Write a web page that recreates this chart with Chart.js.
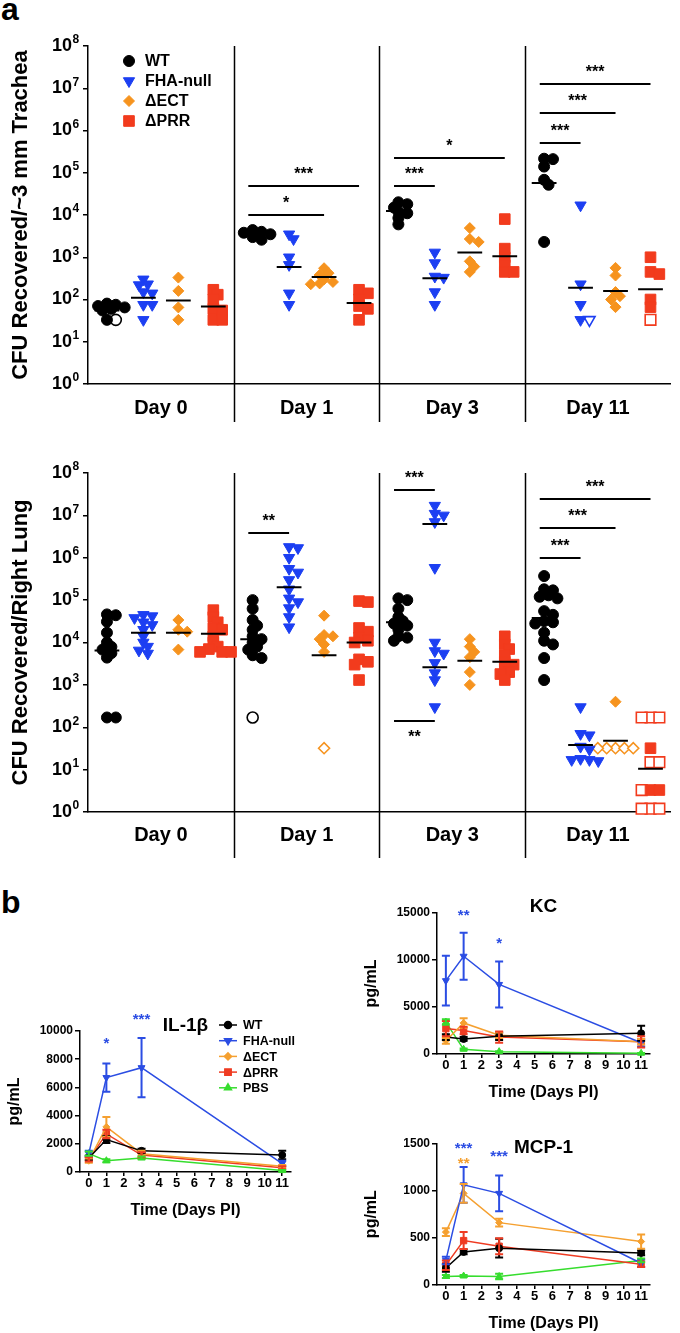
<!DOCTYPE html>
<html>
<head>
<meta charset="utf-8">
<script src="https://cdn.jsdelivr.net/npm/chart.js@4.4.1/dist/chart.umd.min.js"></script>
<style>
  body { margin: 0; background: #fff; }
  #page { position: relative; width: 680px; height: 1333px; overflow: hidden; font-family: 'Liberation Sans', Arial, sans-serif; }
  canvas { position: absolute; }
  .panel { position: absolute; font-weight: bold; font-size: 32px; line-height: 1; }
</style>
</head>
<body>
<div id="page">
  <div class="panel" style="left:1px;top:-7px">a</div>
  <div class="panel" style="left:1px;top:886px">b</div>
  <canvas id="trachea" width="680" height="430" style="left:0;top:0"></canvas>
  <canvas id="lung" width="680" height="430" style="left:0;top:430px"></canvas>
  <canvas id="il1b" width="320" height="230" style="left:0;top:990px"></canvas>
  <canvas id="kc" width="340" height="227" style="left:340px;top:875px"></canvas>
  <canvas id="mcp1" width="340" height="228" style="left:340px;top:1105px"></canvas>
</div>
<script>
// ---- panel a : CFU per mouse, one inner array per day ----
const days = ['Day 0', 'Day 1', 'Day 3', 'Day 11'];
const strains = ['WT', 'FHA-null', '\u0394ECT', '\u0394PRR'];
const logTicks = [0, 1, 2, 3, 4, 5, 6, 7, 8];

const trWT = [[80, 75, 70, 65, 60, 55, 33], [4400, 4000, 3800, 3500, 3000, 2600], [20000, 18000, 15000, 12000, 11000, 8500, 6000], [215000, 210000, 140000, 68000, 52000, 2300]];
const trWTOpen = [[33], [], [], []];
const trFHA = [[300, 230, 220, 150, 140, 75, 75, 33], [3500, 2700, 1000, 660, 140, 75], [1300, 730, 350, 330, 150, 75], [17000, 230, 75, 33]];
const trFHAOpen = [[], [], [], [33]];
const trECT = [[330, 160, 65, 33], [550, 420, 380, 300, 260, 240, 230], [4900, 2700, 2300, 800, 600, 450], [560, 370, 150, 120, 100, 66]];
const trECTOpen = [[], [], [], []];
const trPRR = [[170, 130, 100, 60, 55, 33, 33], [170, 140, 100, 70, 60, 33], [8000, 1600, 1000, 650, 450, 450], [1000, 450, 400, 100, 66]];
const trPRROpen = [[], [], [], [33]];
const trMeanWT = [55, 3400, 12500, 57000];
const trMeanFHA = [110, 590, 320, 190];
const trMeanECT = [95, 340, 1300, 160];
const trMeanPRR = [68, 83, 1050, 175];
const trSigDay = [1, 1, 2, 2, 3, 3, 3];
const trSigTo = [2, 3, 1, 3, 1, 2, 3];
const trSigVal = [1.0e4, 4.85e4, 4.85e4, 2.23e5, 5.06e5, 2.6e6, 1.26e7];
const trSigText = ['*', '***', '***', '*', '***', '***', '***'];
const trSigSide = [1, 1, 1, 1, 1, 1, 1];

const lnWT = [[46000, 44000, 31000, 17000, 10000, 7900, 6800, 5600, 4400, 170, 170], [100000, 63000, 34000, 25000, 20000, 14000, 12000, 10000, 8000, 6800, 5000, 4300], [110000, 100000, 63000, 40000, 32000, 28000, 25000, 20000, 14000, 13000, 11000], [370000, 180000, 170000, 130000, 120000, 110000, 55000, 45000, 32000, 30000, 28000, 17000, 11000, 9000, 4300, 1300]];
const lnWTOpen = [[], [170], [], []];
const lnFHA = [[45000, 42000, 38000, 30000, 26000, 20000, 14000, 10000, 8000, 6500, 5500], [1800000, 1700000, 1000000, 550000, 450000, 300000, 180000, 110000, 90000, 65000, 40000, 23000], [17000000, 11000000, 10000000, 7000000, 580000, 10000, 6300, 5500, 3300, 1900, 1300, 300], [300, 70, 65, 35, 30, 18, 17, 17, 16]];
const lnFHAOpen = [[], [], [], []];
const lnECT = [[34000, 20000, 18000, 6800], [43000, 15000, 14000, 12000, 9000, 6000], [12000, 8000, 6000, 4500, 2000, 1000], [400]];
const lnECTOpen = [[], [32], [], [32, 32, 32, 32, 32]];
const lnPRR = [[58000, 40000, 30000, 22000, 20000, 14000, 10000, 8000, 7000, 6000, 6000, 6000], [95000, 90000, 22000, 18000, 13000, 11000, 10000, 4000, 3500, 3000, 1300], [14000, 9000, 7000, 5000, 3500, 3000, 2500, 2000, 1800, 1300], [32, 3.3, 3.3]];
const lnPRROpen = [[], [], [], [170, 170, 170, 15, 15, 3.3, 1.2, 1.2, 1.2]];
const lnMeanWT = [6500, 12000, 30000, 38000];
const lnMeanFHA = [17000, 200000, 6300000, 38];
const lnMeanECT = [17000, 5000, 3700, 48];
const lnMeanPRR = [16000, 10000, 3500, 10.5];
const lnExtraMean = [2, 1, 2600]; // day 3 FHA-null, low subgroup
const lnSigDay = [1, 2, 2, 3, 3, 3];
const lnSigTo = [1, 1, 1, 1, 2, 3];
const lnSigVal = [3.85e6, 3.98e7, 141, 9.9e5, 5.05e6, 2.44e7];
const lnSigText = ['**', '***', '**', '***', '***', '***'];
const lnSigSide = [1, 1, -1, 1, 1, 1];

// ---- panel b : cytokines, mean and SEM at days 0, 1, 3, 11 ----
const cytoDays = [0, 1, 3, 11];
const dayTicks = [0, 1, 2, 3, 4, 5, 6, 7, 8, 9, 10, 11];
const cytoGroups = ['WT', 'FHA-null', '\u0394ECT', '\u0394PRR', 'PBS'];
const ilMean = [[1000, 2300, 1500, 1200], [1300, 6700, 7400, 600], [800, 3200, 1300, 400], [900, 2700, 1200, 300], [1300, 800, 1000, 100]];
const ilErr = [[150, 250, 150, 300], [200, 1000, 2100, 200], [150, 700, 200, 100], [150, 300, 200, 100], [150, 100, 100, 50]];
const kcMean = [[1800, 1600, 1900, 2200], [7800, 10400, 7400, 1200], [1400, 3300, 2000, 1300], [2700, 2500, 1800, 1300], [3400, 500, 250, 80]];
const kcErr = [[300, 200, 400, 800], [2650, 2500, 2450, 400], [300, 500, 300, 300], [800, 400, 600, 600], [300, 80, 50, 30]];
const mcMean = [[180, 350, 390, 340], [260, 1060, 970, 230], [560, 970, 660, 460], [210, 470, 410, 220], [90, 95, 90, 260]];
const mcErr = [[40, 25, 100, 25], [40, 190, 190, 40], [40, 100, 40, 75], [50, 90, 85, 30], [15, 10, 30, 20]];
const ilStarDay = [1, 3], ilStarVal = [9300, 11000], ilStarText = ['*', '***'], ilStarGroup = [1, 1];
const kcStarDay = [1, 3], kcStarVal = [15000, 12100], kcStarText = ['**', '*'], kcStarGroup = [1, 1];
const mcStarDay = [1, 1, 3], mcStarVal = [1470, 1320, 1390], mcStarText = ['***', '**', '***'], mcStarGroup = [1, 2, 1];

// ---- look ----
const FONT = "'Liberation Sans', Arial, sans-serif";
const strainPos = [0.13, 0.38, 0.62, 0.86];
const strainColor = ['#000000', '#1c3ff2', '#f6931e', '#f23b1d'];
const strainShape = [['circle', 5.5, 0], ['triangle', 6.5, 180], ['rectRot', 5.5, 0], ['rect', 7.5, 0]];
const cytoColor = ['#000000', '#2b4de3', '#f5a030', '#ef3b22', '#36dd2e'];
const cytoShape = [['circle', 3.5, 0], ['triangle', 4, 180], ['rectRot', 3.5, 0], ['rect', 4.5, 0], ['triangle', 4, 0]];
const GROUP_PX = 148, DECADE_PX = 42.3, SWARM_STEP = 4.5, SWARM_GAP = 6, MEAN_HALF = 0.085;
const EXP_ROOM = 11;

Chart.defaults.font.family = FONT;
Chart.defaults.font.weight = 'bold';
Chart.defaults.color = '#000';
Chart.defaults.animation = false;
Chart.defaults.plugins.legend.display = false;
Chart.defaults.plugins.tooltip.enabled = false;

// spread overlapping dots sideways (GraphPad style scatter)
function swarm(vals, openVals) {
  const pts = vals.map(v => ({v: v, open: false})).concat(openVals.map(v => ({v: v, open: true})));
  pts.sort((a, b) => b.v - a.v);
  const placed = [];
  pts.forEach(p => {
    p.py = Math.log10(p.v) * DECADE_PX;
    for (let k = 0; k < 30; k++) {
      const off = (k % 2 ? 1 : -1) * Math.ceil(k / 2) * SWARM_STEP;
      if (!placed.some(q => Math.hypot(q.dx - off, q.py - p.py) < SWARM_GAP)) { p.dx = off; break; }
    }
    placed.push(p);
  });
  return placed;
}

function cfuDatasets(filled, open, means, extra) {
  const sets = [];
  strains.forEach((name, s) => {
    const solid = [], hollow = [];
    days.forEach((_, d) => {
      swarm(filled[s][d], open[s][d]).forEach(p => {
        (p.open ? hollow : solid).push({x: d + strainPos[s] + p.dx / GROUP_PX, y: p.v});
      });
    });
    const sh = strainShape[s];
    const base = {label: name, pointStyle: sh[0], pointRadius: sh[1], pointRotation: sh[2],
      pointBorderColor: strainColor[s], clip: false, order: 2};
    sets.push(Object.assign({}, base, {data: solid, pointBackgroundColor: strainColor[s], pointBorderWidth: 1}));
    if (hollow.length) sets.push(Object.assign({}, base, {data: hollow, pointBackgroundColor: '#fff', pointBorderWidth: 1.6}));
  });
  const meanPts = [];
  const addMean = (d, s, m) => {
    const c = d + strainPos[s];
    meanPts.push({x: c - MEAN_HALF, y: m}, {x: c + MEAN_HALF, y: m}, {x: c, y: null});
  };
  means.forEach((arr, s) => arr.forEach((m, d) => addMean(d, s, m)));
  if (extra) addMean(extra[0], extra[1], extra[2]);
  sets.push({label: 'mean', data: meanPts, showLine: true, spanGaps: false, borderColor: '#000',
    borderWidth: 2, pointRadius: 0, clip: false, order: 0});
  return sets;
}

function dividerPlugin(ext) {
  return {
    id: 'dividers',
    beforeDatasetsDraw(chart) {
      const {ctx, chartArea: a, scales: {x}} = chart;
      ctx.save();
      ctx.strokeStyle = '#000'; ctx.lineWidth = 1.5;
      [1, 2, 3].forEach(k => {
        const px = Math.round(x.getPixelForValue(k)) + 0.5;
        ctx.beginPath(); ctx.moveTo(px, a.top); ctx.lineTo(px, a.bottom + ext); ctx.stroke();
      });
      ctx.restore();
    }
  };
}

// exponents for the "10" tick labels of the log axis
const exponents = {
  id: 'exponents',
  afterDraw(chart) {
    const {ctx, scales: {y}} = chart;
    ctx.save();
    ctx.font = 'bold 12px ' + FONT; ctx.fillStyle = '#000';
    ctx.textAlign = 'left'; ctx.textBaseline = 'middle';
    y.ticks.forEach(t => {
      ctx.fillText(String(Math.round(Math.log10(t.value))), y.right - 5 - EXP_ROOM + 0.5, y.getPixelForValue(t.value) - 6);
    });
    ctx.restore();
  }
};

function sigPlugin(sig) {
  return {
    id: 'sigBars',
    afterDatasetsDraw(chart) {
      const {ctx, scales: {x, y}} = chart;
      ctx.save();
      ctx.strokeStyle = '#000'; ctx.fillStyle = '#000'; ctx.lineWidth = 2;
      ctx.font = 'bold 16px ' + FONT; ctx.textAlign = 'center'; ctx.textBaseline = 'middle';
      sig.day.forEach((d, i) => {
        const x0 = x.getPixelForValue(d + strainPos[0] - 0.03);
        const x1 = x.getPixelForValue(d + strainPos[sig.to[i]]);
        const yy = y.getPixelForValue(sig.val[i]);
        ctx.beginPath(); ctx.moveTo(x0, yy); ctx.lineTo(x1, yy); ctx.stroke();
        const ty = sig.side[i] > 0 ? yy - 15 : yy + 13;
        ctx.fillText(sig.text[i], (x0 + x1) / 2, ty + 3.4);
      });
      ctx.restore();
    }
  };
}

const cfuLegend = {
  id: 'cfuLegend',
  afterDraw(chart) {
    const {ctx, chartArea: a} = chart;
    ctx.save();
    ctx.font = 'bold 16px ' + FONT; ctx.textBaseline = 'middle'; ctx.textAlign = 'left';
    strains.forEach((name, s) => {
      const yy = a.top + 15 + s * 20;
      ctx.fillStyle = strainColor[s]; ctx.strokeStyle = strainColor[s]; ctx.lineWidth = 1;
      Chart.helpers.drawPoint(ctx, {pointStyle: strainShape[s][0], radius: strainShape[s][1], rotation: strainShape[s][2], borderWidth: 1}, a.left + 41, yy);
      ctx.fillStyle = '#000';
      ctx.fillText(name, a.left + 57, yy + 1);
    });
    ctx.restore();
  }
};

function cfuChart(id, cfg) {
  return new Chart(document.getElementById(id), {
    type: 'scatter',
    data: {datasets: cfuDatasets(cfg.filled, cfg.open, cfg.means, cfg.extra)},
    options: {
      responsive: false,
      devicePixelRatio: 1,
      layout: {padding: {top: cfg.top, left: 0, right: 0, bottom: 0}},
      scales: {
        x: {
          type: 'linear', min: 0, max: 4,
          afterBuildTicks: s => { s.ticks = days.map((_, i) => ({value: i + 0.5})); },
          afterFit: s => { s.height = cfg.xHeight; },
          grid: {display: false, drawTicks: false},
          border: {display: true, color: '#000', width: 1.5},
          ticks: {callback: (v, i) => days[i], font: {size: 20, weight: 'bold'}, padding: cfg.labelPad, maxRotation: 0, autoSkip: false}
        },
        y: {
          type: 'logarithmic', min: 1, max: 1e8,
          afterBuildTicks: s => { s.ticks = logTicks.map(e => ({value: Math.pow(10, e)})); },
          afterFit: s => { s.width = 88; },
          grid: {display: true, drawOnChartArea: false, drawTicks: true, tickLength: 5, color: '#000', lineWidth: 1.5},
          border: {display: true, color: '#000', width: 1.5},
          ticks: {callback: () => '10', font: {size: 18, weight: 'bold'}, padding: EXP_ROOM, autoSkip: false},
          title: {display: true, text: cfg.yTitle, font: {size: 22, weight: 'bold'}, padding: {top: 8, bottom: 0}}
        }
      }
    },
    plugins: [dividerPlugin(cfg.divExt), sigPlugin(cfg.sig), exponents].concat(cfg.legend ? [cfuLegend] : [])
  });
}

cfuChart('trachea', {
  filled: [trWT, trFHA, trECT, trPRR], open: [trWTOpen, trFHAOpen, trECTOpen, trPRROpen],
  means: [trMeanWT, trMeanFHA, trMeanECT, trMeanPRR], extra: null,
  sig: {day: trSigDay, to: trSigTo, val: trSigVal, text: trSigText, side: trSigSide},
  yTitle: 'CFU Recovered/~3 mm Trachea', top: 46, xHeight: 46, labelPad: 12, divExt: 38, legend: true
});
cfuChart('lung', {
  filled: [lnWT, lnFHA, lnECT, lnPRR], open: [lnWTOpen, lnFHAOpen, lnECTOpen, lnPRROpen],
  means: [lnMeanWT, lnMeanFHA, lnMeanECT, lnMeanPRR], extra: lnExtraMean,
  sig: {day: lnSigDay, to: lnSigTo, val: lnSigVal, text: lnSigText, side: lnSigSide},
  yTitle: 'CFU Recovered/Right Lung', top: 43, xHeight: 48, labelPad: 11, divExt: 46, legend: false
});

// ---- panel b helpers ----
const errorBars = {
  id: 'errorBars',
  afterDatasetsDraw(chart) {
    const {ctx, scales: {y}} = chart;
    ctx.save(); ctx.lineWidth = 2;
    chart.data.datasets.forEach((ds, i) => {
      ctx.strokeStyle = ds.borderColor;
      chart.getDatasetMeta(i).data.forEach((pt, j) => {
        const m = ds.data[j].y, e = ds.errors[j];
        const top = y.getPixelForValue(m + e), bot = y.getPixelForValue(Math.max(m - e, 0));
        ctx.beginPath();
        ctx.moveTo(pt.x, top); ctx.lineTo(pt.x, bot);
        ctx.moveTo(pt.x - 4, top); ctx.lineTo(pt.x + 4, top);
        ctx.moveTo(pt.x - 4, bot); ctx.lineTo(pt.x + 4, bot);
        ctx.stroke();
      });
    });
    ctx.restore();
  }
};

function cytoExtras(title, titleDy, stars, legend) {
  return {
    id: 'cytoExtras',
    afterDraw(chart) {
      const {ctx, chartArea: a, scales: {x, y}} = chart;
      ctx.save();
      ctx.textAlign = 'center'; ctx.textBaseline = 'middle';
      ctx.fillStyle = '#000';
      ctx.font = 'bold 19px ' + FONT;
      ctx.fillText(title, (a.left + a.right) / 2, a.top + titleDy);
      ctx.font = 'bold 15px ' + FONT;
      stars.day.forEach((d, i) => {
        ctx.fillStyle = cytoColor[stars.group[i]];
        ctx.fillText(stars.text[i], x.getPixelForValue(d), y.getPixelForValue(stars.val[i]) + 3.2);
      });
      if (legend) {
        ctx.font = 'bold 12.5px ' + FONT; ctx.textAlign = 'left';
        cytoGroups.forEach((name, g) => {
          const yy = a.top - 6 + g * 15.7, xm = a.left + 148;
          ctx.strokeStyle = cytoColor[g]; ctx.fillStyle = cytoColor[g]; ctx.lineWidth = 1.5;
          ctx.beginPath(); ctx.moveTo(xm - 9, yy); ctx.lineTo(xm + 9, yy); ctx.stroke();
          Chart.helpers.drawPoint(ctx, {pointStyle: cytoShape[g][0], radius: cytoShape[g][1], rotation: cytoShape[g][2], borderWidth: 1}, xm, yy);
          ctx.fillStyle = '#000';
          ctx.fillText(name, a.left + 163, yy + 1);
        });
      }
      ctx.restore();
    }
  };
}

function cytoChart(id, means, errs, yMax, yStep, cfg) {
  const datasets = cytoGroups.map((name, g) => ({
    label: name,
    data: cytoDays.map((d, i) => ({x: d, y: means[g][i]})),
    errors: errs[g],
    showLine: true, borderColor: cytoColor[g], borderWidth: 1.5,
    pointBackgroundColor: cytoColor[g], pointBorderColor: cytoColor[g], pointBorderWidth: 1,
    pointStyle: cytoShape[g][0], pointRadius: cytoShape[g][1], pointRotation: cytoShape[g][2], clip: false
  }));
  return new Chart(document.getElementById(id), {
    type: 'scatter',
    data: {datasets: datasets},
    options: {
      responsive: false,
      devicePixelRatio: 1,
      layout: {padding: {top: cfg.top, right: cfg.right, left: 0, bottom: 0}},
      scales: {
        x: {
          type: 'linear', min: -0.5, max: 11.5,
          afterBuildTicks: s => { s.ticks = dayTicks.map(v => ({value: v})); },
          afterFit: s => { s.height = 48; },
          grid: {display: true, drawOnChartArea: false, drawTicks: true, tickLength: 4, color: '#000', lineWidth: 1.5},
          border: {display: true, color: '#000', width: 1.5},
          ticks: {callback: v => String(v), font: {size: 13, weight: 'bold'}, padding: 0, maxRotation: 0, autoSkip: false},
          title: {display: true, text: 'Time (Days PI)', font: {size: 16, weight: 'bold'}, padding: {top: 0, bottom: 0}}
        },
        y: {
          min: 0, max: yMax,
          afterFit: s => { s.width = cfg.yWidth; },
          grid: {display: true, drawOnChartArea: false, drawTicks: true, tickLength: 5, color: '#000', lineWidth: 1.5},
          border: {display: true, color: '#000', width: 1.5},
          ticks: {stepSize: yStep, callback: v => String(v), font: {size: 12, weight: 'bold'}, padding: 2},
          title: {display: true, text: 'pg/mL', font: {size: 16, weight: 'bold'}, padding: {top: cfg.titlePad, bottom: 0}}
        }
      }
    },
    plugins: [errorBars, cytoExtras(cfg.title, cfg.titleDy, cfg.stars, cfg.legend)]
  });
}

cytoChart('il1b', ilMean, ilErr, 10000, 2000, {
  top: 41, right: 29, yWidth: 80, titlePad: 5.4, title: 'IL-1\u03b2', titleDy: -5, legend: true,
  stars: {day: ilStarDay, val: ilStarVal, text: ilStarText, group: ilStarGroup}
});
cytoChart('kc', kcMean, kcErr, 15000, 5000, {
  top: 38, right: 30, yWidth: 97, titlePad: 22.4, title: 'KC', titleDy: -6, legend: false,
  stars: {day: kcStarDay, val: kcStarVal, text: kcStarText, group: kcStarGroup}
});
cytoChart('mcp1', mcMean, mcErr, 1500, 500, {
  top: 38.3, right: 30, yWidth: 97, titlePad: 22.4, title: 'MCP-1', titleDy: 4, legend: false,
  stars: {day: mcStarDay, val: mcStarVal, text: mcStarText, group: mcStarGroup}
});
</script>
</body>
</html>
